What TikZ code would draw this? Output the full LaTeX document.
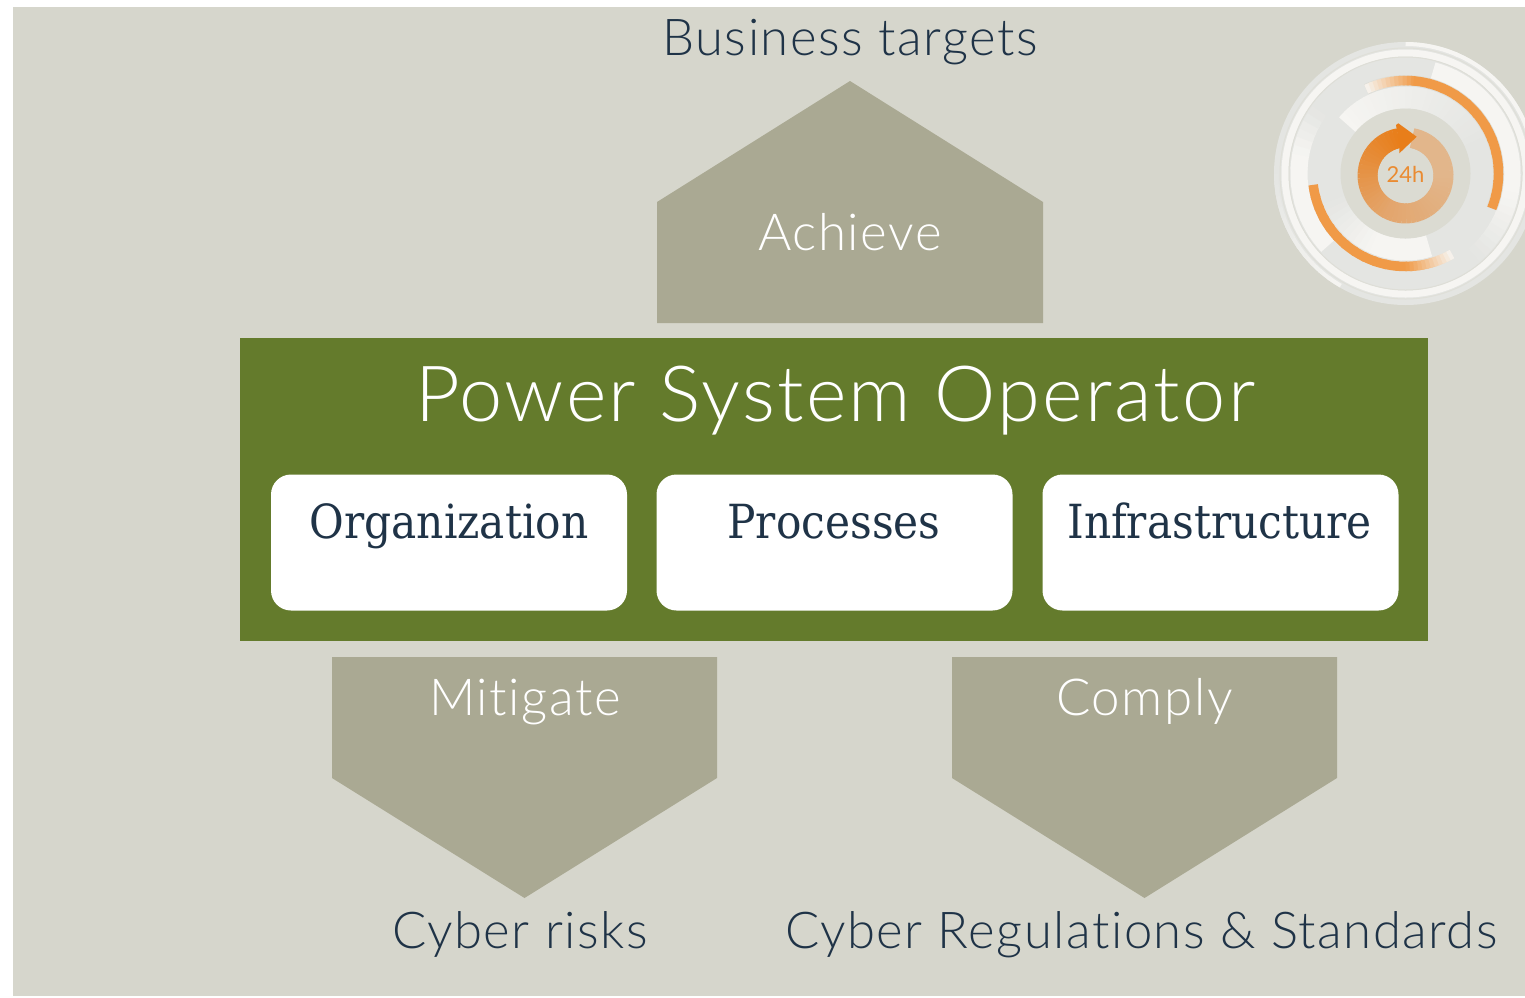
\documentclass[tikz,border=0pt]{standalone}
\usepackage{fontspec}
\setmainfont{Lato}[UprightFont=* Light,Ligatures=NoCommon,LetterSpace=3]
\newfontfamily\slabfont{DejaVu Serif Condensed}
\newfontfamily\dialfont{Lato}
\definecolor{bgc}{HTML}{D6D6CC}
\definecolor{arrowc}{HTML}{AAA993}
\definecolor{greenc}{HTML}{647B2C}
\definecolor{inkc}{HTML}{1F3347}
\definecolor{orc}{HTML}{F09A47}
\definecolor{dorc}{HTML}{E87E1A}
\definecolor{lorc}{HTML}{E3A56C}
\definecolor{pale}{HTML}{DFD6C6}
\definecolor{ringa}{HTML}{E4E5E2}
\definecolor{ringb}{HTML}{F6F5F2}
\definecolor{discc}{HTML}{DBDBD2}
\tikzset{
  chevron/.style={fill=arrowc,draw=none},
  darktext/.style={text=inkc,font=\fontsize{50.8}{55}\selectfont,inner sep=0pt,anchor=base},
  whitetext/.style={text=white,font=\fontsize{51}{55}\selectfont,inner sep=0pt,anchor=base},
  titletext/.style={text=white,font=\fontsize{77.5}{80}\selectfont,inner sep=0pt,anchor=base},
  cardbox/.style={fill=white,rounded corners=20pt,minimum width=356pt,minimum height=136pt,inner sep=0pt,draw=none},
  cardtext/.style={text=inkc,font=\slabfont\fontsize{47}{50}\selectfont,inner sep=0pt,anchor=base},
}
% radius ; centre y ; width ; angles from, to ; colours ; steps
\newcommand{\gradarc}[8]{%
  \foreach \k in {1,...,#8}{%
    \pgfmathsetmacro{\aa}{#4+(#5-#4)*(\k-1)/#8}%
    \pgfmathsetmacro{\ab}{#4+(#5-#4)*\k/#8+(#5>#4?1.5:-1.5)*(\k<#8?1:0)}%
    \pgfmathsetmacro{\mm}{100*(\k-0.5)/#8}%
    \draw[line width=#3pt,color={#7!\mm!#6}] ({1405.5+#1*cos(\aa)},{#2+0-#1*sin(\aa)}) arc[start angle=\aa,end angle=\ab,radius=#1pt];%
  }%
}
\begin{document}
\begin{tikzpicture}[x=1pt,y=-1pt]
\useasboundingbox (0,0) rectangle (1525,997);
\fill[bgc] (13,7) rectangle (1525,996);

% Dial
\begin{scope}
\clip (13,7) rectangle (1525,996);
\fill[ringa] (1405.5,173.5) circle[radius=131.5pt];
% outer highlights
\gradarc{129.5}{173.5}{4}{90}{0}{ringb}{ringb}{4}
\gradarc{129.5}{173.5}{4}{240}{180}{ringb}{ringa}{12}
% separator rings and pale ring
\draw[color=discc!60!ringa,line width=1pt] (1405.5,173.5) circle[radius=125.5pt];
\draw[color=ringb,line width=7pt] (1405.5,173.5) circle[radius=120.5pt];
\draw[color=discc!70!ringa,line width=1pt] (1405.5,173.5) circle[radius=116.5pt];
% wide band
\gradarc{106.5}{173.5}{17}{75}{-11}{ringb}{ringb}{8}
\gradarc{106.5}{173.5}{17}{-10}{-50}{ringb}{ringa}{10}
\gradarc{106.5}{173.5}{17}{223}{169}{ringb}{ringb}{6}
\gradarc{106.5}{173.5}{17}{170}{144}{ringb}{ringa}{6}
% inner band
\gradarc{76}{173.5}{22}{140}{20}{ringb}{ringa}{24}
\gradarc{76}{173.5}{22}{200}{246}{ringa}{ringb}{10}
\gradarc{76}{173.5}{22}{245}{288}{ringb}{ringb}{6}
% orange arcs
\draw[color=discc!70!ringa,line width=11pt] (1405.5,173.5) ++(-22:93pt) arc[start angle=-22,end angle=115,radius=93pt];
\gradarc{93}{173.5}{9.5}{115}{84}{ringb}{orc}{12}
\gradarc{93}{173.5}{9.5}{85}{-22}{orc}{orc}{12}
\gradarc{93}{173.5}{9.5}{187}{271}{orc}{orc}{12}
\gradarc{93}{173.5}{9.5}{270}{300}{orc}{ringb}{12}
% centre disc
\fill[discc] (1405.5,173.5) circle[radius=65pt];
\gradarc{38}{175.5}{20}{100}{242}{dorc}{lorc}{24}
\gradarc{38}{175.5}{20}{240}{362}{lorc}{pale!35!lorc}{20}
\gradarc{38}{175.5}{20}{360}{440}{pale!35!lorc}{pale}{14}
\fill[dorc] (1398.3,123.3) -- (1416.7,136.7) -- (1399.3,153.3) -- (1399.3,145) -- (1396,125) -- cycle;
\end{scope}
\node[text=dorc!90!white,font=\dialfont\fontsize{22}{23}\selectfont,inner sep=0pt] (hours) at (1405.5,174) {24h};

% Chevrons
\fill[chevron] (657,323) -- (657,202) -- (850,81) -- (1043,202) -- (1043,323) -- cycle;
\fill[chevron] (332,657) -- (717,657) -- (717,778) -- (524.5,898) -- (332,778) -- cycle;
\fill[chevron] (952,657) -- (1337,657) -- (1337,778) -- (1144.5,898) -- (952,778) -- cycle;

% Operator block
\fill[greenc] (240,338) rectangle (1428,641);
\node[titletext] (title) at (835,421) {Power System Operator};
\node[cardbox] (org) at (449,542.5) {};
\node[cardbox] (proc) at (834.5,542.5) {};
\node[cardbox] (infra) at (1220.5,542.5) {};
\node[cardtext] (orgt) at (449,538) {Organization};
\node[cardtext] (proct) at (834,538) {Processes};
\node[cardtext] (infrat) at (1219.5,538) {Infrastructure};

% Labels
\node[darktext] (targets) at (850,55) {Business targets};
\node[whitetext] (achieve) at (850,250) {Achieve};
\node[whitetext] (mitigate) at (525,715) {Mitigate};
\node[whitetext] (comply) at (1144.5,715) {Comply};
\node[darktext] (risks) at (520,948) {Cyber risks};
\node[darktext] (regs) at (1141.5,948) {Cyber Regulations \& Standards};
\end{tikzpicture}
\end{document}
